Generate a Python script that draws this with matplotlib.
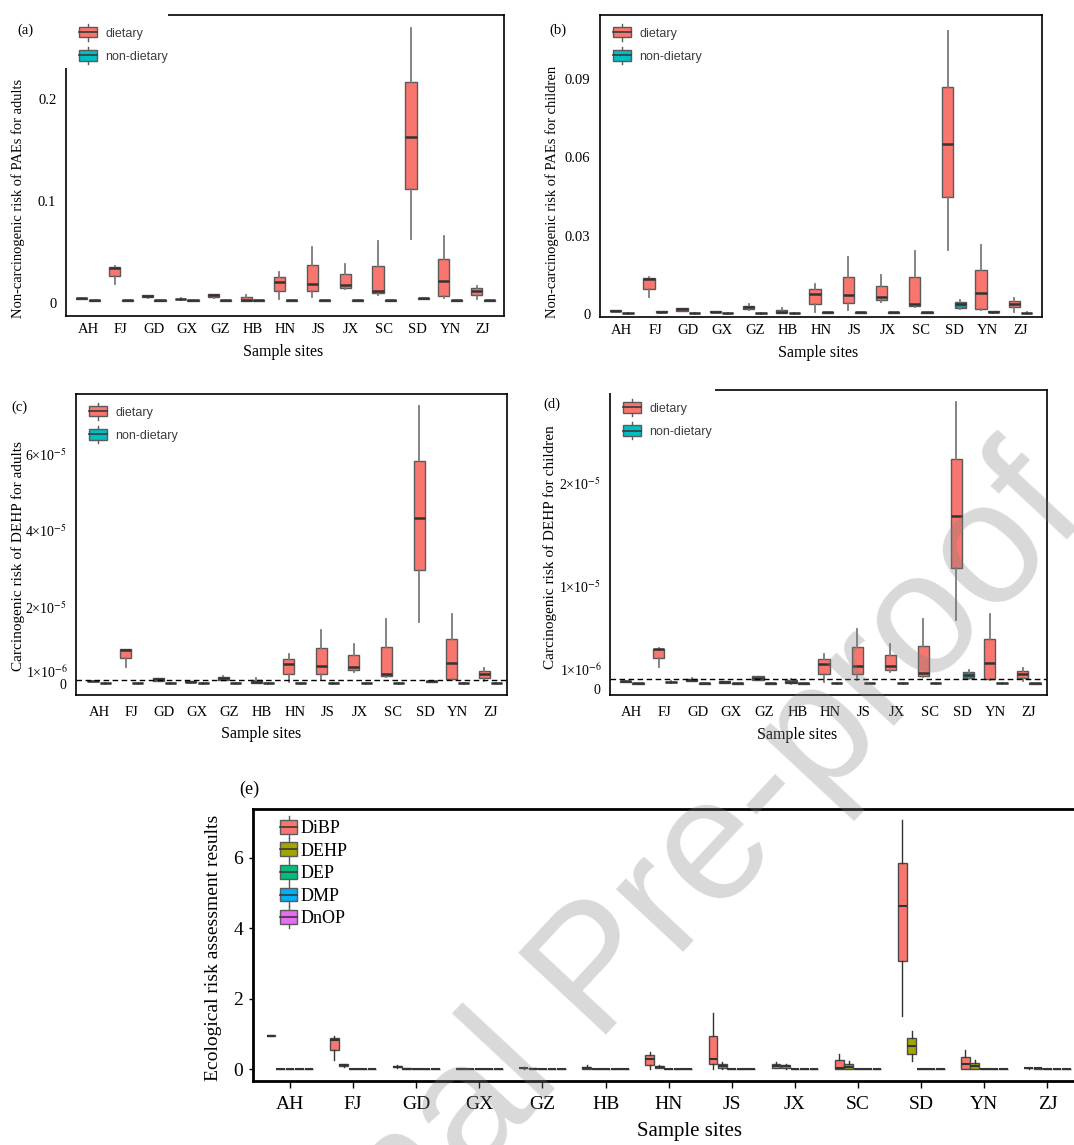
import numpy as np
import matplotlib
matplotlib.use('Agg')
import matplotlib.pyplot as plt
from matplotlib.patches import Rectangle, Patch
from matplotlib.lines import Line2D
from matplotlib.legend_handler import HandlerPatch

plt.rcParams['font.family'] = ['Liberation Serif', 'DejaVu Serif']
plt.rcParams['mathtext.fontset'] = 'stix'

# sample sites
sites = ['AH', 'FJ', 'GD', 'GX', 'GZ', 'HB', 'HN', 'JS', 'JX', 'SC', 'SD', 'YN', 'ZJ']

# box statistics per site: (whisker low, q1, median, q3, whisker high)
# (a) non-carcinogenic risk of PAEs, adults
a_dietary = [(0.0038, 0.0038, 0.0042, 0.0046, 0.0046), (0.018, 0.026, 0.034, 0.035, 0.036),
             (0.0050, 0.0052, 0.0065, 0.0075, 0.0078), (0.0030, 0.0032, 0.0036, 0.0040, 0.0042),
             (0.0050, 0.0056, 0.0075, 0.0088, 0.0090), (0.0014, 0.0016, 0.0030, 0.0056, 0.0075),
             (0.0033, 0.0111, 0.0203, 0.0252, 0.0300), (0.0056, 0.0114, 0.0186, 0.0366, 0.0542),
             (0.0131, 0.0147, 0.0173, 0.0278, 0.0382), (0.0075, 0.0092, 0.0114, 0.0363, 0.0608),
             (0.062, 0.1118, 0.1627, 0.216, 0.269), (0.0049, 0.0062, 0.0209, 0.0428, 0.0657),
             (0.0039, 0.0075, 0.0114, 0.0140, 0.0163)]
a_nondietary = [(0.0018, 0.0019, 0.0022, 0.0025, 0.0026), (0.0019, 0.0020, 0.0023, 0.0026, 0.0027),
                (0.0018, 0.0019, 0.0022, 0.0025, 0.0026), (0.0018, 0.0019, 0.0022, 0.0025, 0.0026),
                (0.0018, 0.0019, 0.0022, 0.0025, 0.0026), (0.0018, 0.0019, 0.0022, 0.0025, 0.0026),
                (0.0019, 0.0020, 0.0023, 0.0026, 0.0027), (0.0019, 0.0020, 0.0023, 0.0026, 0.0027),
                (0.0019, 0.0020, 0.0023, 0.0026, 0.0027), (0.0019, 0.0020, 0.0023, 0.0026, 0.0027),
                (0.0038, 0.0039, 0.0042, 0.0045, 0.0046), (0.0019, 0.0020, 0.0023, 0.0026, 0.0027),
                (0.0018, 0.0019, 0.0022, 0.0025, 0.0026)]

# (b) non-carcinogenic risk of PAEs, children
b_dietary = [(0.0010, 0.0010, 0.0012, 0.0014, 0.0014), (0.0066, 0.0097, 0.0134, 0.0138, 0.0141),
             (0.0010, 0.0012, 0.0018, 0.0022, 0.0024), (0.0006, 0.0006, 0.0008, 0.0010, 0.0010),
             (0.0013, 0.0017, 0.0025, 0.0032, 0.0036), (0.0002, 0.0003, 0.0009, 0.0016, 0.0022),
             (0.0008, 0.0039, 0.0075, 0.0097, 0.0116), (0.0016, 0.0041, 0.0071, 0.0143, 0.0216),
             (0.0047, 0.0054, 0.0066, 0.0108, 0.0147), (0.0026, 0.0030, 0.0039, 0.0141, 0.0240),
             (0.0245, 0.0447, 0.0651, 0.0868, 0.1084), (0.0014, 0.0018, 0.0079, 0.0167, 0.0262),
             (0.0009, 0.0025, 0.0039, 0.0051, 0.0060)]
b_nondietary = [(0.0001, 0.0002, 0.0003, 0.0004, 0.0005), (0.0005, 0.0006, 0.0008, 0.0010, 0.0011),
                (0.0001, 0.0002, 0.0003, 0.0004, 0.0005), (0.0001, 0.0002, 0.0003, 0.0004, 0.0005),
                (0.0001, 0.0002, 0.0003, 0.0004, 0.0005), (0.0001, 0.0002, 0.0003, 0.0004, 0.0005),
                (0.0004, 0.0005, 0.0006, 0.0008, 0.0009), (0.0004, 0.0005, 0.0006, 0.0008, 0.0009),
                (0.0004, 0.0005, 0.0006, 0.0008, 0.0009), (0.0004, 0.0005, 0.0006, 0.0008, 0.0009),
                (0.0018, 0.0022, 0.0036, 0.0045, 0.0055), (0.0005, 0.0006, 0.0008, 0.0010, 0.0011),
                (0.0002, 0.0003, 0.0004, 0.0005, 0.0006)]

# (c) carcinogenic risk of DEHP, adults
c_dietary = [(6.8e-7, 6.8e-7, 7.4e-7, 8.0e-7, 8.0e-7), (4.48e-6, 6.66e-6, 8.83e-6, 9.0e-6, 9.2e-6),
             (6.5e-7, 7.4e-7, 1.17e-6, 1.44e-6, 1.5e-6), (3.5e-7, 4.0e-7, 4.8e-7, 6.5e-7, 7.0e-7),
             (9.0e-7, 1.09e-6, 1.6e-6, 1.87e-6, 1.95e-6), (1.0e-7, 1.3e-7, 5.7e-7, 1.0e-6, 1.44e-6),
             (5.7e-7, 2.57e-6, 5.09e-6, 6.48e-6, 7.79e-6), (1.0e-6, 2.57e-6, 4.65e-6, 9.44e-6, 1.405e-5),
             (3.09e-6, 3.7e-6, 4.48e-6, 7.44e-6, 1.03e-5), (1.87e-6, 2.04e-6, 2.65e-6, 9.7e-6, 1.68e-5),
             (1.62e-5, 2.97e-5, 4.33e-5, 5.8e-5, 7.25e-5), (1.0e-6, 1.17e-6, 5.35e-6, 1.16e-5, 1.81e-5),
             (7.4e-7, 1.61e-6, 2.65e-6, 3.35e-6, 4.05e-6)]
c_nondietary = [(8e-8, 1.0e-7, 1.3e-7, 1.6e-7, 1.8e-7), (8e-8, 1.0e-7, 1.3e-7, 1.6e-7, 1.8e-7),
                (8e-8, 1.0e-7, 1.3e-7, 1.6e-7, 1.8e-7), (8e-8, 1.0e-7, 1.3e-7, 1.6e-7, 1.8e-7),
                (8e-8, 1.0e-7, 1.3e-7, 1.6e-7, 1.8e-7), (8e-8, 1.0e-7, 1.3e-7, 1.6e-7, 1.8e-7),
                (8e-8, 1.0e-7, 1.3e-7, 1.6e-7, 1.8e-7), (8e-8, 1.0e-7, 1.3e-7, 1.6e-7, 1.8e-7),
                (8e-8, 1.0e-7, 1.3e-7, 1.6e-7, 1.8e-7), (8e-8, 1.0e-7, 1.3e-7, 1.6e-7, 1.8e-7),
                (5.5e-7, 5.8e-7, 6.5e-7, 7.2e-7, 7.5e-7), (8e-8, 1.0e-7, 1.3e-7, 1.6e-7, 1.8e-7),
                (8e-8, 1.0e-7, 1.3e-7, 1.6e-7, 1.8e-7)]

# (d) carcinogenic risk of DEHP, children
d_dietary = [(7.0e-7, 7.1e-7, 7.4e-7, 7.7e-7, 7.8e-7), (2.13e-6, 2.97e-6, 3.84e-6, 3.9e-6, 3.94e-6),
             (7.4e-7, 7.7e-7, 9.0e-7, 1.0e-6, 1.03e-6), (5.5e-7, 5.8e-7, 6.5e-7, 7.4e-7, 7.7e-7),
             (8.4e-7, 9.0e-7, 1.06e-6, 1.23e-6, 1.3e-6), (5.2e-7, 5.5e-7, 6.8e-7, 8.4e-7, 1.0e-6),
             (7.1e-7, 1.48e-6, 2.42e-6, 2.9e-6, 3.39e-6), (9.0e-7, 1.48e-6, 2.26e-6, 4.03e-6, 5.8e-6),
             (1.68e-6, 1.87e-6, 2.19e-6, 3.26e-6, 4.35e-6), (1.19e-6, 1.29e-6, 1.55e-6, 4.13e-6, 6.77e-6),
             (6.65e-6, 1.17e-5, 1.68e-5, 2.23e-5, 2.78e-5), (8.7e-7, 9.7e-7, 2.52e-6, 4.84e-6, 7.26e-6),
             (7.4e-7, 1.1e-6, 1.48e-6, 1.77e-6, 2.0e-6)]
d_nondietary = [(5.0e-7, 5.2e-7, 5.5e-7, 5.8e-7, 6.0e-7), (6.3e-7, 6.5e-7, 6.8e-7, 7.1e-7, 7.3e-7),
                (5.0e-7, 5.2e-7, 5.5e-7, 5.8e-7, 6.0e-7), (5.0e-7, 5.2e-7, 5.5e-7, 5.8e-7, 6.0e-7),
                (5.0e-7, 5.2e-7, 5.5e-7, 5.8e-7, 6.0e-7), (5.0e-7, 5.2e-7, 5.5e-7, 5.8e-7, 6.0e-7),
                (5.3e-7, 5.5e-7, 5.8e-7, 6.1e-7, 6.3e-7), (5.3e-7, 5.5e-7, 5.8e-7, 6.1e-7, 6.3e-7),
                (5.3e-7, 5.5e-7, 5.8e-7, 6.1e-7, 6.3e-7), (5.3e-7, 5.5e-7, 5.8e-7, 6.1e-7, 6.3e-7),
                (9.7e-7, 1.06e-6, 1.39e-6, 1.61e-6, 1.87e-6), (5.3e-7, 5.5e-7, 5.8e-7, 6.1e-7, 6.3e-7),
                (5.0e-7, 5.2e-7, 5.5e-7, 5.8e-7, 6.0e-7)]

# (e) ecological risk per compound
e_dibp = [(0.95, 0.95, 0.96, 0.97, 0.97), (0.28, 0.55, 0.82, 0.90, 0.95), (0.05, 0.06, 0.076, 0.10, 0.11),
          (0.0, 0.0, 0.005, 0.01, 0.01), (0.02, 0.03, 0.04, 0.05, 0.06), (0.0, 0.0, 0.03, 0.076, 0.12),
          (0.0, 0.13, 0.30, 0.41, 0.50), (0.01, 0.14, 0.30, 0.96, 1.61), (0.03, 0.05, 0.10, 0.15, 0.21),
          (0.0, 0.01, 0.05, 0.27, 0.45), (1.52, 3.07, 4.64, 5.85, 7.07), (0.0, 0.0, 0.15, 0.34, 0.55),
          (0.02, 0.03, 0.04, 0.05, 0.05)]
e_dehp = [(0.0, 0.0, 0.0, 0.005, 0.005), (0.08, 0.09, 0.12, 0.14, 0.15), (0.01, 0.01, 0.02, 0.03, 0.03),
          (0.0, 0.0, 0.0, 0.005, 0.005), (0.01, 0.01, 0.02, 0.03, 0.03), (0.0, 0.0, 0.0, 0.01, 0.01),
          (0.03, 0.04, 0.076, 0.10, 0.11), (0.0, 0.03, 0.095, 0.14, 0.20), (0.02, 0.04, 0.085, 0.12, 0.16),
          (0.01, 0.02, 0.066, 0.14, 0.24), (0.24, 0.44, 0.65, 0.88, 1.09), (0.0, 0.02, 0.10, 0.17, 0.27),
          (0.02, 0.02, 0.03, 0.04, 0.04)]
e_dep = [(0.0, 0.0, 0.0, 0.005, 0.005)] * 13
e_dmp = [(0.0, 0.0, 0.0, 0.005, 0.005)] * 13
e_dnop = [(0.0, 0.0, 0.0, 0.005, 0.005)] * 13
e_names = ['DiBP', 'DEHP', 'DEP', 'DMP', 'DnOP']
e_colors = ['#F8766D', '#A3A500', '#00BF7D', '#00B0F6', '#E76BF3']

DIET = '#F8766D'
NON = '#00BFC4'
NON_BOX = '#1b959a'

W, H = 1074, 1145
fig = plt.figure(figsize=(W / 100, H / 100), dpi=100)


def px_axes(l, t, r, b):
    return fig.add_axes([l / W, 1 - b / H, (r - l) / W, (b - t) / H])


def stats(rows):
    return [dict(whislo=r[0], q1=r[1], med=r[2], q3=r[3], whishi=r[4], fliers=[]) for r in rows]


class BoxKey(HandlerPatch):
    def create_artists(self, legend, orig_handle, xdescent, ydescent, width, height, fontsize, trans):
        x0, y0 = -xdescent, -ydescent
        cx = x0 + width / 2
        ec = '#5a5a5a'
        up = Line2D([cx, cx], [y0 + height, y0 + height * 1.3], color=ec, lw=1.0, transform=trans)
        dn = Line2D([cx, cx], [y0, y0 - height * 0.3], color=ec, lw=1.0, transform=trans)
        box = Rectangle((x0, y0), width, height, facecolor=orig_handle.get_facecolor(),
                        edgecolor=ec, lw=1.0, transform=trans)
        med = Line2D([x0, x0 + width], [y0 + height / 2] * 2, color='#3a3a3a', lw=1.2, transform=trans)
        return [up, dn, box, med]


def risk_panel(ax, diet, nondiet, xlim, ylim):
    pos = np.arange(len(sites))
    for rows, off, fc in [(diet, -0.1875, DIET), (nondiet, 0.1875, NON_BOX)]:
        ax.bxp(stats(rows), positions=pos + off, widths=0.34, patch_artist=True,
               showfliers=False, showcaps=False, manage_ticks=False,
               boxprops=dict(facecolor=fc, edgecolor='#5a5a5a', linewidth=1.0),
               medianprops=dict(color='#333333', linewidth=1.8),
               whiskerprops=dict(color='#7a7a7a', linewidth=1.3))
    ax.set_xlim(*xlim)
    ax.set_ylim(*ylim)
    ax.set_xticks(pos, sites)
    ax.tick_params(length=0, labelsize=10.5, colors='black')
    ax.tick_params(axis='x', pad=5)
    ax.tick_params(axis='y', pad=7)
    for s in ax.spines.values():
        s.set_linewidth(1.2)
        s.set_color('black')
    handles = [Patch(facecolor=DIET), Patch(facecolor=NON)]
    ax.legend(handles, ['dietary', 'non-dietary'], handler_map={Patch: BoxKey()},
              loc='upper left', bbox_to_anchor=(0.03, 0.96), frameon=False,
              borderpad=0, borderaxespad=0, handlelength=1.45, handleheight=0.9,
              labelspacing=0.85, handletextpad=0.65,
              prop=dict(family='Liberation Sans', size=9), labelcolor='#3d3d3d')


# (a)
ax = px_axes(66, 15, 504, 316)
risk_panel(ax, a_dietary, a_nondietary, (-0.67, 12.64), (-0.013, 0.282))
ax.set_yticks([0, 0.1, 0.2], ['0', '0.1', '0.2'])
ax.set_ylabel('Non-carcinogenic risk of PAEs for adults', fontsize=10.5)
ax.yaxis.set_label_coords(-0.094, 0.39)
ax.set_xlabel('Sample sites', fontsize=11.5)
ax.xaxis.set_label_coords(0.495, -0.093)
ax.add_patch(Rectangle((-0.02, 0.824), 0.253, 0.2, transform=ax.transAxes,
                       facecolor='white', edgecolor='none', clip_on=False, zorder=3))

# (b)
ax = px_axes(600, 15, 1042, 317)
risk_panel(ax, b_dietary, b_nondietary, (-0.66, 12.65), (-0.0012, 0.1145))
ax.set_yticks([0, 0.03, 0.06, 0.09], ['0', '0.03', '0.06', '0.09'])
ax.set_ylabel('Non-carcinogenic risk of PAEs for children', fontsize=10.5)
ax.yaxis.set_label_coords(-0.093, 0.414)
ax.set_xlabel('Sample sites', fontsize=11.5)
ax.xaxis.set_label_coords(0.493, -0.093)

# (c)
ax = px_axes(76, 394, 507, 695)
risk_panel(ax, c_dietary, c_nondietary, (-0.71, 12.51), (-2.9e-6, 7.56e-5))
ax.axhline(1e-6, color='black', lw=1.0, ls=(0, (4, 2.5)), zorder=4)
ax.set_yticks([0, 2e-5, 4e-5, 6e-5], ['0', '2×10$^{-5}$', '4×10$^{-5}$', '6×10$^{-5}$'])
ax.tick_params(axis='y', labelsize=10)
ax.annotate('1×10$^{-6}$', xy=(0, 1e-6), xycoords=('axes fraction', 'data'),
            xytext=(-5.5, 5.5), textcoords='offset points', ha='right', va='center', fontsize=10)
ax.tick_params(axis='x', pad=8)
ax.set_ylabel('Carcinogenic risk of DEHP for adults', fontsize=11)
ax.yaxis.set_label_coords(-0.118, 0.46)
ax.set_xlabel('Sample sites', fontsize=11.5)
ax.xaxis.set_label_coords(0.43, -0.103)

# (d)
ax = px_axes(610, 390, 1047, 695)
risk_panel(ax, d_dietary, d_nondietary, (-0.66, 12.55), (-5.8e-7, 2.9e-5))
ax.axhline(1e-6, color='black', lw=1.0, ls=(0, (4, 2.5)), zorder=4)
ax.set_yticks([0, 1e-5, 2e-5], ['0', '1×10$^{-5}$', '2×10$^{-5}$'])
ax.tick_params(axis='y', labelsize=10)
ax.annotate('1×10$^{-6}$', xy=(0, 1e-6), xycoords=('axes fraction', 'data'),
            xytext=(-5.5, 6), textcoords='offset points', ha='right', va='center', fontsize=10)
ax.tick_params(axis='x', pad=8)
ax.set_ylabel('Carcinogenic risk of DEHP for children', fontsize=11)
ax.yaxis.set_label_coords(-0.121, 0.485)
ax.set_xlabel('Sample sites', fontsize=11.5)
ax.xaxis.set_label_coords(0.428, -0.105)
ax.add_patch(Rectangle((-0.005, 0.99), 0.245, 0.03, transform=ax.transAxes,
                       facecolor='white', edgecolor='none', clip_on=False, zorder=3))

# (e)
ax = px_axes(253, 809, 1074, 1081)
pos = np.arange(len(sites))
e_groups = [e_dibp, e_dehp, e_dep, e_dmp, e_dnop]
for k, (rows, fc) in enumerate(zip(e_groups, e_colors)):
    ax.bxp(stats(rows), positions=pos + (k - 2) * 0.15, widths=0.14, patch_artist=True,
           showfliers=False, showcaps=False, manage_ticks=False,
           boxprops=dict(facecolor=fc, edgecolor='#4a4a4a', linewidth=1.0),
           medianprops=dict(color='#333333', linewidth=1.5),
           whiskerprops=dict(color='#333333', linewidth=1.0))
ax.set_xlim(-0.586, 12.42)
ax.set_ylim(-0.33, 7.39)
ax.set_xticks(pos, sites)
ax.set_yticks([0, 2, 4, 6])
ax.tick_params(axis='x', length=5, width=1, pad=6, labelsize=14)
ax.tick_params(axis='y', length=3, width=1, pad=4, labelsize=14)
ax.spines['right'].set_visible(False)
for s in ['left', 'top', 'bottom']:
    ax.spines[s].set_linewidth(2)
ax.set_ylabel('Ecological risk assessment results', fontsize=14)
ax.yaxis.set_label_coords(-0.038, 0.49)
ax.set_xlabel('Sample sites', fontsize=15)
ax.xaxis.set_label_coords(0.532, -0.15)
ax.legend([Patch(facecolor=c) for c in e_colors], e_names, handler_map={Patch: BoxKey()},
          loc='upper left', bbox_to_anchor=(0.033, 0.96), frameon=False,
          borderpad=0, borderaxespad=0, handlelength=0.95, handleheight=0.8,
          labelspacing=0.3, handletextpad=0.2, prop=dict(size=13))

# panel letters
for lab, x, y, fs in [('(a)', 25, 30, 10.5), ('(b)', 558, 30, 10.5), ('(c)', 19, 407, 10.5),
                      ('(d)', 552, 404, 10.5), ('(e)', 249, 789, 13)]:
    fig.text(x / W, 1 - y / H, lab, ha='center', va='center', fontsize=fs)

# watermark
fig.text(0.5587, 0.1485, 'Journal Pre-proof', rotation=47, fontsize=125, color='#808080',
         alpha=0.3, family='Liberation Sans', ha='center', va='center', zorder=10)

fig.savefig('out.png', dpi=100)
